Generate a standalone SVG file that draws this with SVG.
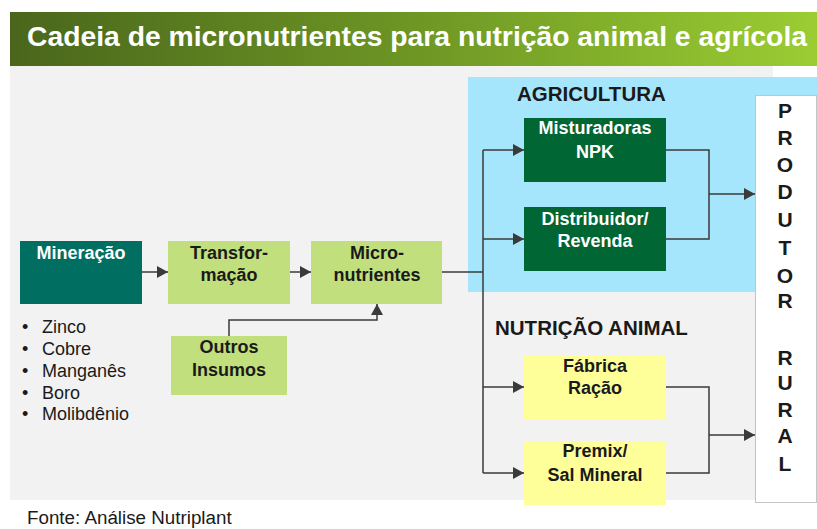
<svg xmlns="http://www.w3.org/2000/svg" width="817" height="529" viewBox="0 0 817 529">
<defs>
<linearGradient id="tg" x1="0" y1="0" x2="1" y2="0">
<stop offset="0" stop-color="#4a661c"/>
<stop offset="0.5" stop-color="#6d9624"/>
<stop offset="1" stop-color="#9bcd33"/>
</linearGradient>
<marker id="ah" markerUnits="userSpaceOnUse" markerWidth="12" markerHeight="12" refX="11" refY="6" orient="auto">
<path d="M0,0 L11,6 L0,12 z" fill="#3a3a3a"/>
</marker>
</defs>
<style>
.lbl{font-family:"Liberation Sans",Arial,sans-serif;font-weight:bold;font-size:18px;text-anchor:middle;fill:#1a1a1a}
.w{fill:#ffffff}
.hd{font-family:"Liberation Sans",Arial,sans-serif;font-weight:bold;font-size:20.5px;fill:#1a1a1a}
.bul{font-family:"Liberation Sans",Arial,sans-serif;font-size:18px;fill:#1a1a1a}
.pr{font-family:"Liberation Sans",Arial,sans-serif;font-weight:bold;font-size:21px;text-anchor:middle;fill:#1a1a1a}
.ln{fill:none;stroke:#3a3a3a;stroke-width:1.5}
.ar{marker-end:url(#ah)}
.lg{fill:#c2df7d}
.yl{fill:#ffff99}
.dg{fill:#006633}
</style>
<rect x="0" y="0" width="817" height="529" fill="#ffffff"/>
<rect x="10" y="12" width="807" height="54" fill="url(#tg)"/>
<text x="27" y="46" font-family="Liberation Sans, Arial, sans-serif" font-weight="bold" font-size="28.3" fill="#ffffff">Cadeia de micronutrientes para nutrição animal e agrícola</text>
<rect x="10" y="66" width="763" height="434" fill="#f2f2f2"/>
<rect x="468" y="77" width="349" height="215" fill="#a6e6fc"/>
<text class="hd" x="517" y="101">AGRICULTURA</text>
<text class="hd" x="495" y="335">NUTRIÇÃO ANIMAL</text>

<g id="connectors">
<line class="ln ar" x1="142" y1="272" x2="168" y2="272"/>
<line class="ln ar" x1="290" y1="272" x2="311" y2="272"/>
<polyline class="ln ar" points="229,336 229,320 377,320 377,304"/>
<line class="ln" x1="442" y1="272" x2="483" y2="272"/>
<line class="ln" x1="483" y1="150" x2="483" y2="473"/>
<line class="ln ar" x1="483" y1="150" x2="524" y2="150"/>
<line class="ln ar" x1="483" y1="239" x2="524" y2="239"/>
<line class="ln ar" x1="483" y1="387" x2="524" y2="387"/>
<line class="ln ar" x1="483" y1="473" x2="524" y2="473"/>
<polyline class="ln" points="666,150 709,150 709,239 666,239"/>
<line class="ln ar" x1="709" y1="194" x2="755" y2="194"/>
<polyline class="ln" points="666,387 709,387 709,473 666,473"/>
<line class="ln ar" x1="709" y1="435" x2="755" y2="435"/>
</g>

<g id="mineracao">
<rect x="20" y="241" width="122" height="63" fill="#006f62"/>
<text class="lbl w" x="81" y="259">Mineração</text>
</g>
<g id="minerais">
<text class="bul" x="22" y="333">•</text><text class="bul" x="42" y="333">Zinco</text>
<text class="bul" x="22" y="355">•</text><text class="bul" x="42" y="355">Cobre</text>
<text class="bul" x="22" y="377">•</text><text class="bul" x="42" y="377">Manganês</text>
<text class="bul" x="22" y="399">•</text><text class="bul" x="42" y="399">Boro</text>
<text class="bul" x="22" y="420">•</text><text class="bul" x="42" y="420">Molibdênio</text>
</g>
<g id="transformacao">
<rect class="lg" x="168" y="241" width="122" height="63"/>
<text class="lbl" x="229" y="259">Transfor-</text>
<text class="lbl" x="229" y="281">mação</text>
</g>
<g id="micronutrientes">
<rect class="lg" x="311" y="241" width="131" height="63"/>
<text class="lbl" x="377" y="259">Micro-</text>
<text class="lbl" x="377" y="281">nutrientes</text>
</g>
<g id="outros">
<rect class="lg" x="171" y="336" width="116" height="59"/>
<text class="lbl" x="229" y="353">Outros</text>
<text class="lbl" x="229" y="376">Insumos</text>
</g>
<g id="misturadoras">
<rect class="dg" x="524" y="118" width="142" height="64"/>
<text class="lbl w" x="595" y="134">Misturadoras</text>
<text class="lbl w" x="595" y="158">NPK</text>
</g>
<g id="distribuidor">
<rect class="dg" x="524" y="207" width="142" height="64"/>
<text class="lbl w" x="595" y="225">Distribuidor/</text>
<text class="lbl w" x="595" y="247">Revenda</text>
</g>
<g id="fabrica">
<rect class="yl" x="524" y="355" width="142" height="64"/>
<text class="lbl" x="595" y="372">Fábrica</text>
<text class="lbl" x="595" y="394">Ração</text>
</g>
<g id="premix">
<rect class="yl" x="524" y="442" width="142" height="63"/>
<text class="lbl" x="595" y="457">Premix/</text>
<text class="lbl" x="595" y="481">Sal Mineral</text>
</g>
<g id="produtor">
<rect x="755.5" y="95.5" width="61" height="407" fill="#ffffff" stroke="#c4c4c4" stroke-width="1"/>
<text class="pr" x="785" y="118">P</text>
<text class="pr" x="785" y="145">R</text>
<text class="pr" x="785" y="172">O</text>
<text class="pr" x="785" y="199">D</text>
<text class="pr" x="785" y="227">U</text>
<text class="pr" x="785" y="255">T</text>
<text class="pr" x="785" y="283">O</text>
<text class="pr" x="785" y="308">R</text>
<text class="pr" x="785" y="365">R</text>
<text class="pr" x="785" y="390">U</text>
<text class="pr" x="785" y="417">R</text>
<text class="pr" x="785" y="443">A</text>
<text class="pr" x="785" y="471">L</text>
</g>
<text x="27" y="524" font-family="Liberation Sans, Arial, sans-serif" font-size="18.8" fill="#1a1a1a">Fonte: Análise Nutriplant</text>
</svg>
